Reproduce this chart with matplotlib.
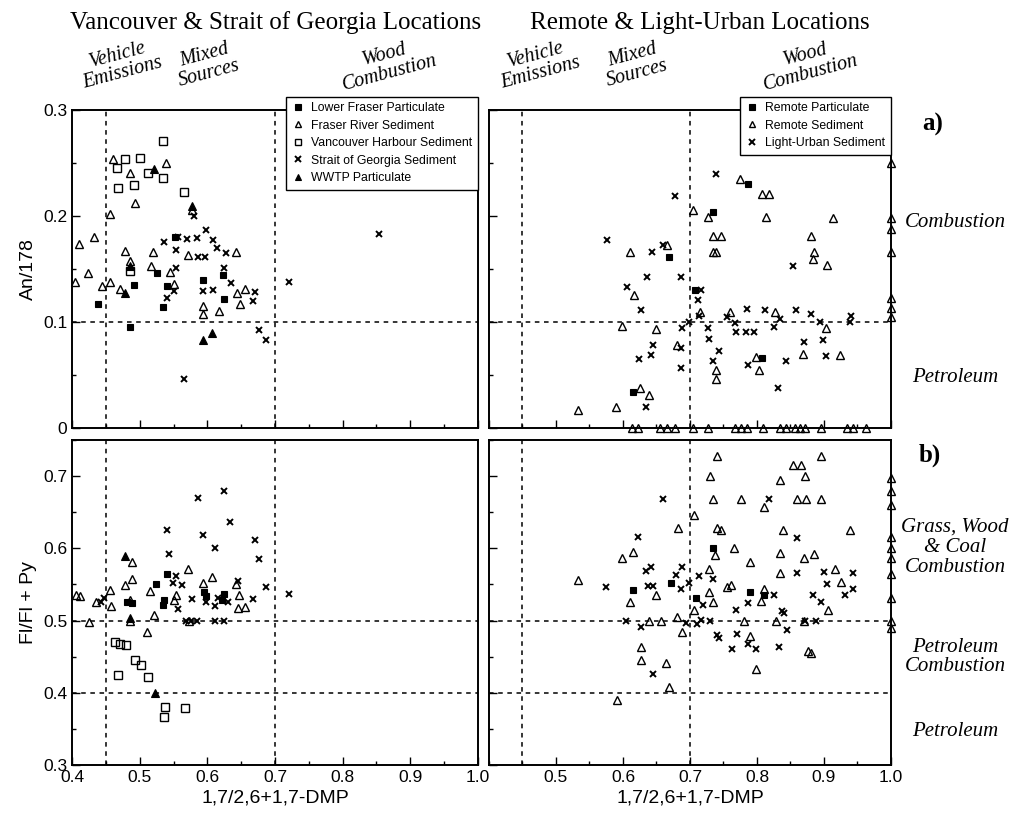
import matplotlib
matplotlib.use('Agg')
import matplotlib.pyplot as plt
from matplotlib.ticker import MultipleLocator
import numpy as np

plt.rcParams['font.family'] = ['Liberation Sans', 'DejaVu Sans']

# ---- a) An/178 vs 1,7/2,6+1,7-DMP, Vancouver & Strait of Georgia ----
lower_fraser_a = [(0.439, 0.117), (0.485, 0.095), (0.491, 0.135), (0.525, 0.146), (0.540, 0.134),
                  (0.534, 0.114), (0.594, 0.140), (0.623, 0.144), (0.625, 0.122), (0.552, 0.180)]
fraser_river_a = [(0.460, 0.254), (0.486, 0.241), (0.539, 0.250), (0.493, 0.212), (0.456, 0.202),
                  (0.411, 0.174), (0.433, 0.180), (0.520, 0.166), (0.572, 0.163), (0.479, 0.167),
                  (0.485, 0.158), (0.424, 0.146), (0.405, 0.138), (0.445, 0.134), (0.456, 0.138),
                  (0.471, 0.131), (0.517, 0.153), (0.545, 0.147), (0.551, 0.136), (0.578, 0.206),
                  (0.642, 0.166), (0.644, 0.127), (0.656, 0.131), (0.648, 0.117), (0.594, 0.115),
                  (0.594, 0.108), (0.617, 0.110)]
harbour_a = [(0.535, 0.271), (0.479, 0.254), (0.500, 0.255), (0.467, 0.245), (0.512, 0.241),
             (0.535, 0.236), (0.492, 0.229), (0.468, 0.226), (0.566, 0.223), (0.486, 0.148)]
georgia_a = [(0.580, 0.200), (0.536, 0.175), (0.556, 0.180), (0.570, 0.178), (0.585, 0.179),
             (0.598, 0.187), (0.609, 0.177), (0.614, 0.170), (0.554, 0.168), (0.586, 0.161),
             (0.597, 0.161), (0.627, 0.165), (0.624, 0.151), (0.554, 0.151), (0.550, 0.129),
             (0.540, 0.123), (0.593, 0.129), (0.609, 0.130), (0.635, 0.137), (0.668, 0.120),
             (0.670, 0.128), (0.676, 0.092), (0.686, 0.083), (0.565, 0.046), (0.720, 0.138),
             (0.854, 0.183)]
wwtp_a = [(0.521, 0.244), (0.577, 0.209), (0.486, 0.153), (0.479, 0.127), (0.593, 0.083), (0.607, 0.090)]

# ---- a) remote & light-urban ----
remote_part_a = [(0.786, 0.230), (0.734, 0.204), (0.669, 0.161), (0.708, 0.130), (0.615, 0.034),
                 (0.807, 0.066)]
remote_sed_a = [(0.774, 0.235), (0.807, 0.221), (0.818, 0.221), (0.813, 0.199), (0.705, 0.206),
                (0.727, 0.199), (0.735, 0.181), (0.746, 0.181), (0.734, 0.166), (0.739, 0.166),
                (0.881, 0.181), (0.885, 0.166), (0.884, 0.159), (0.904, 0.154), (0.914, 0.198),
                (0.610, 0.166), (0.665, 0.173), (0.616, 0.125), (0.598, 0.096), (0.650, 0.093),
                (0.680, 0.078), (0.903, 0.094), (0.869, 0.070), (0.924, 0.069), (0.803, 0.055),
                (0.739, 0.055), (0.739, 0.046), (0.625, 0.038), (0.639, 0.031), (0.590, 0.020),
                (0.533, 0.017), (0.827, 0.109), (0.760, 0.109), (0.715, 0.109), (0.798, 0.067)]
remote_sed_a_zero = [0.613, 0.623, 0.655, 0.665, 0.678, 0.705, 0.727, 0.767, 0.776, 0.785,
                     0.809, 0.834, 0.844, 0.857, 0.864, 0.872, 0.896, 0.934, 0.944, 0.963]
remote_sed_a_edge = [0.250, 0.198, 0.188, 0.166, 0.123, 0.113, 0.105]
urban_a = [(0.739, 0.240), (0.677, 0.219), (0.576, 0.177), (0.644, 0.166), (0.659, 0.173),
           (0.636, 0.142), (0.687, 0.142), (0.606, 0.133), (0.627, 0.111), (0.717, 0.130),
           (0.712, 0.121), (0.714, 0.106), (0.755, 0.105), (0.785, 0.112), (0.812, 0.111),
           (0.834, 0.103), (0.858, 0.111), (0.881, 0.108), (0.894, 0.100), (0.940, 0.106),
           (0.939, 0.100), (0.854, 0.153), (0.688, 0.094), (0.727, 0.094), (0.769, 0.091),
           (0.784, 0.091), (0.796, 0.091), (0.698, 0.100), (0.729, 0.084), (0.744, 0.073),
           (0.686, 0.075), (0.645, 0.078), (0.642, 0.069), (0.624, 0.065), (0.686, 0.057),
           (0.735, 0.063), (0.786, 0.059), (0.844, 0.063), (0.870, 0.081), (0.898, 0.083),
           (0.903, 0.068), (0.832, 0.038), (0.635, 0.020), (0.825, 0.095), (0.767, 0.099)]

# ---- b) Fl/Fl+Py vs 1,7/2,6+1,7-DMP, Vancouver & Strait of Georgia ----
lower_fraser_b = [(0.540, 0.565), (0.524, 0.551), (0.536, 0.529), (0.535, 0.522), (0.595, 0.539),
                  (0.598, 0.534), (0.625, 0.537), (0.621, 0.529), (0.489, 0.524), (0.482, 0.525)]
fraser_river_b = [(0.406, 0.535), (0.412, 0.534), (0.456, 0.542), (0.457, 0.520), (0.479, 0.549),
                  (0.488, 0.581), (0.488, 0.558), (0.486, 0.528), (0.516, 0.541), (0.521, 0.508),
                  (0.511, 0.484), (0.572, 0.571), (0.593, 0.552), (0.607, 0.560), (0.553, 0.535),
                  (0.551, 0.528), (0.647, 0.535), (0.642, 0.550), (0.646, 0.517), (0.656, 0.519),
                  (0.435, 0.526), (0.425, 0.498), (0.485, 0.500), (0.573, 0.500)]
harbour_b = [(0.463, 0.470), (0.471, 0.468), (0.480, 0.466), (0.493, 0.446), (0.502, 0.438),
             (0.468, 0.424), (0.512, 0.422), (0.537, 0.380), (0.567, 0.379), (0.536, 0.366)]
georgia_b = [(0.625, 0.679), (0.586, 0.670), (0.634, 0.637), (0.540, 0.626), (0.593, 0.619),
             (0.611, 0.601), (0.671, 0.612), (0.676, 0.585), (0.544, 0.592), (0.686, 0.547),
             (0.720, 0.537), (0.668, 0.530), (0.646, 0.555), (0.616, 0.531), (0.578, 0.530),
             (0.563, 0.549), (0.553, 0.562), (0.630, 0.525), (0.612, 0.520), (0.625, 0.500),
             (0.611, 0.500), (0.585, 0.500), (0.576, 0.500), (0.568, 0.500), (0.598, 0.525),
             (0.549, 0.552), (0.557, 0.516), (0.443, 0.526), (0.447, 0.531)]
wwtp_b = [(0.479, 0.590), (0.485, 0.503), (0.523, 0.400)]

# ---- b) remote & light-urban ----
remote_part_b = [(0.615, 0.542), (0.672, 0.552), (0.709, 0.531), (0.735, 0.600), (0.790, 0.540),
                 (0.810, 0.535)]
remote_sed_b = [(0.740, 0.728), (0.896, 0.728), (0.854, 0.715), (0.866, 0.715), (0.730, 0.700),
                (0.871, 0.700), (0.835, 0.694), (0.735, 0.668), (0.776, 0.668), (0.859, 0.668),
                (0.873, 0.668), (0.896, 0.668), (0.811, 0.657), (0.706, 0.646), (0.682, 0.628),
                (0.740, 0.628), (0.746, 0.626), (0.839, 0.626), (0.939, 0.626), (0.766, 0.600),
                (0.738, 0.591), (0.834, 0.593), (0.870, 0.586), (0.885, 0.592), (0.790, 0.581),
                (0.728, 0.571), (0.916, 0.572), (0.834, 0.566), (0.533, 0.556), (0.925, 0.554),
                (0.755, 0.547), (0.761, 0.549), (0.729, 0.539), (0.734, 0.526), (0.810, 0.544),
                (0.806, 0.527), (0.599, 0.586), (0.615, 0.595), (0.610, 0.525), (0.650, 0.536),
                (0.706, 0.515), (0.680, 0.505), (0.639, 0.500), (0.656, 0.500), (0.780, 0.500),
                (0.828, 0.500), (0.870, 0.500), (0.906, 0.514), (0.627, 0.463), (0.627, 0.446),
                (0.664, 0.441), (0.669, 0.408), (0.799, 0.433), (0.591, 0.390), (0.688, 0.484),
                (0.789, 0.479), (0.876, 0.458), (0.881, 0.455)]
remote_sed_b_edge = [0.698, 0.680, 0.660, 0.615, 0.601, 0.587, 0.564, 0.531, 0.500, 0.489]
urban_b = [(0.659, 0.668), (0.818, 0.668), (0.623, 0.615), (0.860, 0.614), (0.642, 0.574),
           (0.635, 0.568), (0.679, 0.563), (0.688, 0.574), (0.698, 0.552), (0.686, 0.543),
           (0.637, 0.548), (0.645, 0.548), (0.714, 0.562), (0.734, 0.558), (0.720, 0.522),
           (0.768, 0.514), (0.786, 0.524), (0.826, 0.535), (0.838, 0.513), (0.840, 0.510),
           (0.883, 0.535), (0.895, 0.525), (0.900, 0.567), (0.905, 0.550), (0.943, 0.566),
           (0.943, 0.543), (0.931, 0.535), (0.575, 0.547), (0.605, 0.500), (0.627, 0.491),
           (0.694, 0.497), (0.711, 0.495), (0.717, 0.501), (0.730, 0.500), (0.845, 0.487),
           (0.740, 0.480), (0.744, 0.476), (0.770, 0.481), (0.786, 0.467), (0.798, 0.460),
           (0.833, 0.463), (0.763, 0.460), (0.645, 0.426), (0.872, 0.500), (0.888, 0.500),
           (0.860, 0.566)]

# marker styles
filled_sq = dict(marker='s', ms=5, mfc='k', mec='k', mew=0.8)
open_tri = dict(marker='^', ms=5.5, mfc='none', mec='k', mew=1.0)
open_sq = dict(marker='s', ms=5.5, mfc='none', mec='k', mew=1.0)
xmark = dict(marker='x', ms=5, mec='k', mew=1.4)
filled_tri = dict(marker='^', ms=5.5, mfc='k', mec='k', mew=0.8)

serif = 'Liberation Serif'


def scatter(ax, pts, style, label=None):
    pts = np.array(pts)
    ax.plot(pts[:, 0], pts[:, 1], ls='none', label=label, clip_on=False, zorder=3, **style)


def setup(ax, ylim, guides_y, left, bottom):
    ax.set_xlim(0.4, 1.0)
    ax.set_ylim(*ylim)
    ax.xaxis.set_major_locator(MultipleLocator(0.1))
    ax.xaxis.set_minor_locator(MultipleLocator(0.05))
    ax.yaxis.set_major_locator(MultipleLocator(0.1))
    ax.yaxis.set_minor_locator(MultipleLocator(0.05))
    ax.tick_params(which='both', direction='in', width=1, labelsize=12.5,
                   labelleft=left, labelbottom=bottom)
    ax.tick_params(which='major', length=6)
    ax.tick_params(which='minor', length=3)
    for s in ax.spines.values():
        s.set_linewidth(1.4)
    for gx in (0.45, 0.7):
        ax.axvline(gx, color='k', lw=1.1, ls=(0, (3, 3)), zorder=1)
    for gy in guides_y:
        ax.axhline(gy, color='k', lw=1.1, ls=(0, (3, 3)), zorder=1)


fig = plt.figure(figsize=(10.2, 8.16), dpi=100)
ax1 = fig.add_axes([0.0706, 0.4755, 0.398, 0.3897])
ax2 = fig.add_axes([0.4794, 0.4755, 0.3941, 0.3897])
ax3 = fig.add_axes([0.0706, 0.0625, 0.398, 0.3983])
ax4 = fig.add_axes([0.4794, 0.0625, 0.3941, 0.3983])

setup(ax1, (0, 0.3), [0.1], True, False)
setup(ax2, (0, 0.3), [0.1], False, False)
setup(ax3, (0.3, 0.75), [0.5, 0.4], True, True)
setup(ax4, (0.3, 0.75), [0.5, 0.4], False, True)

ax1.set_yticks([0, 0.1, 0.2, 0.3])
ax1.set_yticklabels(['0', '0.1', '0.2', '0.3'])
ax4.set_xticks([0.5, 0.6, 0.7, 0.8, 0.9, 1.0])
ax4.set_xticklabels(['0.5', '0.6', '0.7', '0.8', '0.9', '1.0'])
ax3.set_xticks([0.4, 0.5, 0.6, 0.7, 0.8, 0.9, 1.0])
ax3.set_xticklabels(['0.4', '0.5', '0.6', '0.7', '0.8', '0.9', '1.0'])

# left column
scatter(ax1, lower_fraser_a, filled_sq, 'Lower Fraser Particulate')
scatter(ax1, fraser_river_a, open_tri, 'Fraser River Sediment')
scatter(ax1, harbour_a, open_sq, 'Vancouver Harbour Sediment')
scatter(ax1, georgia_a, xmark, 'Strait of Georgia Sediment')
scatter(ax1, wwtp_a, filled_tri, 'WWTP Particulate')
scatter(ax3, lower_fraser_b, filled_sq)
scatter(ax3, fraser_river_b, open_tri)
scatter(ax3, harbour_b, open_sq)
scatter(ax3, georgia_b, xmark)
scatter(ax3, wwtp_b, filled_tri)

# right column
scatter(ax2, remote_part_a, filled_sq, 'Remote Particulate')
scatter(ax2, remote_sed_a + [(x, 0.0) for x in remote_sed_a_zero]
        + [(1.0, y) for y in remote_sed_a_edge], open_tri, 'Remote Sediment')
scatter(ax2, urban_a, xmark, 'Light-Urban Sediment')
scatter(ax4, remote_part_b, filled_sq)
scatter(ax4, remote_sed_b + [(1.0, y) for y in remote_sed_b_edge], open_tri)
scatter(ax4, urban_b, xmark)

for ax in (ax1, ax2):
    leg = ax.legend(loc='upper right', bbox_to_anchor=(1.0, 1.042), fontsize=8.8,
                    frameon=True, fancybox=False, framealpha=1, edgecolor='k',
                    borderaxespad=0, handlelength=1, handletextpad=0.6,
                    labelspacing=0.45, borderpad=0.45, markerscale=0.85)
    leg.get_frame().set_linewidth(1.0)
    leg.set_zorder(5)

ax1.set_ylabel('An/178', fontsize=14, labelpad=4)
ax3.set_ylabel('Fl/Fl + Py', fontsize=14, labelpad=4)
ax3.set_xlabel('1,7/2,6+1,7-DMP', fontsize=14, labelpad=3)
ax4.set_xlabel('1,7/2,6+1,7-DMP', fontsize=14, labelpad=3)


def ftext(px, py, s, **kw):
    fig.text(px / 1020, 1 - py / 816, s, ha='center', va='center', family=serif, **kw)


ftext(276, 23, 'Vancouver & Strait of Georgia Locations', fontsize=18)
ftext(700, 23, 'Remote & Light-Urban Locations', fontsize=18)

zones = ['Vehicle\nEmissions', 'Mixed\nSources', 'Wood\nCombustion']
for zx, s in zip([120, 207, 387], zones):
    ftext(zx, 64, s, fontsize=14.5, style='italic', rotation=15, linespacing=1.0)
for zx, s in zip([538, 635, 808], zones):
    ftext(zx, 64, s, fontsize=14.5, style='italic', rotation=15, linespacing=1.0)

ftext(933, 124, 'a)', fontsize=18, weight='bold')
ftext(930, 455, 'b)', fontsize=18, weight='bold')
ftext(955, 223, 'Combustion', fontsize=15, style='italic')
ftext(955, 377, 'Petroleum', fontsize=15, style='italic')
ftext(955, 547, 'Grass, Wood\n& Coal\nCombustion', fontsize=15, style='italic', linespacing=1.1)
ftext(955, 657, 'Petroleum\nCombustion', fontsize=15, style='italic', linespacing=1.05)
ftext(955, 732, 'Petroleum', fontsize=15, style='italic')

fig.savefig('out.png', dpi=100)
